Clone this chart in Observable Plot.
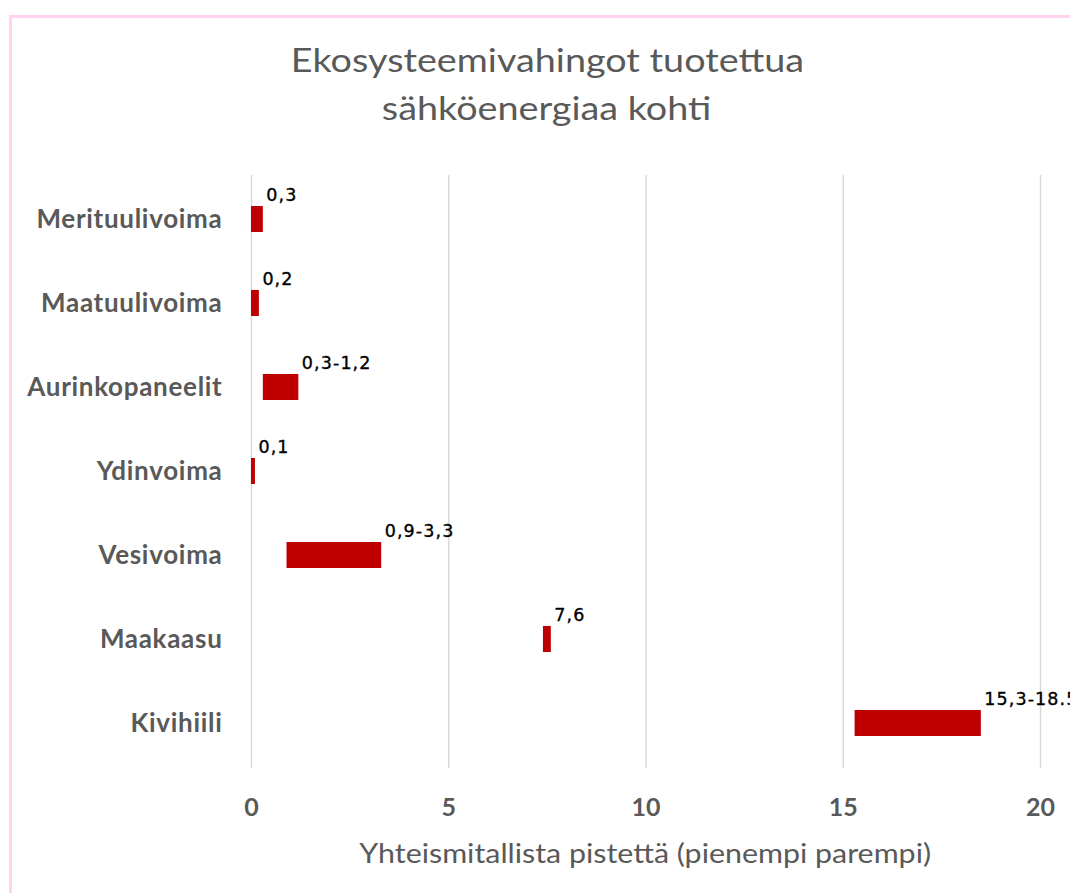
<!DOCTYPE html>
<html>
<head>
<meta charset="utf-8">
<script src="https://cdn.jsdelivr.net/npm/d3@7"></script>
<script src="https://cdn.jsdelivr.net/npm/@observablehq/plot@0.6"></script>
<style>
  html, body { margin: 0; padding: 0; background: #fff; overflow: hidden; width: 1070px; height: 893px; }
  #frame { position: absolute; left: 9px; top: 15px; width: 1200px; height: 1000px;
           border-left: 3px solid #ffd3ee; border-top: 3px solid #ffd3ee; box-sizing: border-box; }
  #title { position: absolute; left: 247px; width: 600px; top: 36px; text-align: center;
           font-family: Lato, sans-serif; font-weight: 400; font-size: 32px; line-height: 48px;
           color: #595959; white-space: nowrap; }
  #title span { display: inline-block; transform: scaleX(1.18); }
  #xtitle { position: absolute; left: 245px; width: 800px; top: 839px; text-align: center;
            font-family: Lato, sans-serif; font-size: 27px; line-height: 27px; color: #595959; white-space: nowrap; }
  #xtitle span { display: inline-block; transform: scaleX(1.125); }
  #chart { position: absolute; left: 0; top: 0; }
  #chart g[aria-label="y-axis tick label"] text { letter-spacing: 0.7px; }
  #chart g[aria-label="text"] text { letter-spacing: 1.1px; }
</style>
</head>
<body>
<div id="frame"></div>
<div id="title"><span>Ekosysteemivahingot tuotettua</span><br><span>sähköenergiaa kohti</span></div>
<div id="chart"></div>
<div id="xtitle"><span>Yhteismitallista pistettä (pienempi parempi)</span></div>
<script>
const categories = ["Merituulivoima", "Maatuulivoima", "Aurinkopaneelit", "Ydinvoima", "Vesivoima", "Maakaasu", "Kivihiili"];
const lows  = [0, 0, 0.3, 0, 0.9, 7.4, 15.3];
const highs = [0.3, 0.2, 1.2, 0.1, 3.3, 7.6, 18.5];
const labels = ["0,3", "0,2", "0,3-1,2", "0,1", "0,9-3,3", "7,6", "15,3-18.5"];
const xTicks = [0, 5, 10, 15, 20];

const data = categories.map((c, i) => ({cat: c, lo: lows[i], hi: highs[i], label: labels[i]}));

const plot = Plot.plot({
  width: 1070,
  height: 893,
  marginLeft: 251,
  marginRight: 30,
  marginTop: 175,
  marginBottom: 125,
  style: {background: "transparent", overflow: "visible"},
  x: {domain: [0, 20]},
  y: {domain: categories, paddingInner: 0.69, paddingOuter: 0.335},
  marks: [
    Plot.gridX(xTicks, {stroke: "#d9d9d9", strokeOpacity: 1, strokeWidth: 1.5}),
    Plot.barX(data, {x1: "lo", x2: "hi", y: "cat", fill: "#c00000"}),
    Plot.text(data, {x: "hi", y: "cat", text: "label", textAnchor: "start", dx: 3, dy: -24,
      fill: "#000", stroke: "#000", strokeWidth: 0.35, fontSize: 17.5,
      fontFamily: "DejaVu Sans, sans-serif"}),
    Plot.axisX(xTicks, {tickSize: 0, tickPadding: 30, fontSize: 25, fontWeight: "bold",
      fontFamily: "Lato, sans-serif", fill: "#595959", label: null, tickFormat: d => String(d)}),
    Plot.axisY({tickSize: 0, tickPadding: 29, fontSize: 26, fontWeight: "bold",
      fontFamily: "Lato, sans-serif", fill: "#595959", label: null})
  ]
});
document.getElementById("chart").appendChild(plot);
</script>
</body>
</html>
